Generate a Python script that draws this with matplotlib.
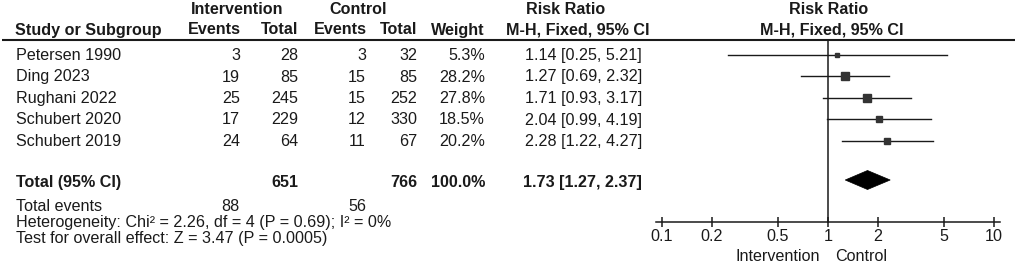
import matplotlib
matplotlib.use("Agg")
import matplotlib.pyplot as plt
from matplotlib.patches import Polygon

plt.rcParams["font.family"] = ["Liberation Sans", "DejaVu Sans"]

# data
studies = ["Petersen 1990", "Ding 2023", "Rughani 2022", "Schubert 2020", "Schubert 2019"]
int_events = [3, 19, 25, 17, 24]
int_total = [28, 85, 245, 229, 64]
ctl_events = [3, 15, 15, 12, 11]
ctl_total = [32, 85, 252, 330, 67]
weights = [5.3, 28.2, 27.8, 18.5, 20.2]
rr = [1.14, 1.27, 1.71, 2.04, 2.28]
rr_lo = [0.25, 0.69, 0.93, 0.99, 1.22]
rr_hi = [5.21, 2.32, 3.17, 4.19, 4.27]

total_rr, total_lo, total_hi = 1.73, 1.27, 2.37
total_int_n, total_ctl_n = 651, 766
total_int_ev, total_ctl_ev = 88, 56
heterogeneity = "Heterogeneity: Chi² = 2.26, df = 4 (P = 0.69); I² = 0%"
overall = "Test for overall effect: Z = 3.47 (P = 0.0005)"

ticks = [0.1, 0.2, 0.5, 1, 2, 5, 10]
tick_labels = ["0.1", "0.2", "0.5", "1", "2", "5", "10"]

W, H = 1017, 264
FS = 11.6
INK = "#1a1a1a"

fig = plt.figure(figsize=(W / 100, H / 100), dpi=100)

# table part, laid out in pixel coordinates
ax = fig.add_axes([0, 0, 1, 1])
ax.set_xlim(0, W)
ax.set_ylim(H, 0)
ax.axis("off")


def txt(x, y, s, ha="right", bold=False):
    ax.text(x, y, s, ha=ha, va="baseline", fontsize=FS, color=INK,
            fontweight="bold" if bold else "normal")


# headers
txt(237, 13.5, "Intervention", ha="center", bold=True)
txt(358, 13.5, "Control", ha="center", bold=True)
txt(566, 13.5, "Risk Ratio", ha="center", bold=True)
txt(829, 13.5, "Risk Ratio", ha="center", bold=True)
txt(15, 34.5, "Study or Subgroup", ha="left", bold=True)
txt(241, 34.5, "Events", bold=True)
txt(298, 34.5, "Total", bold=True)
txt(367, 34.5, "Events", bold=True)
txt(417, 34.5, "Total", bold=True)
txt(485, 34.5, "Weight", bold=True)
txt(578, 34.5, "M-H, Fixed, 95% CI", ha="center", bold=True)
txt(832, 34.5, "M-H, Fixed, 95% CI", ha="center", bold=True)
ax.plot([2, 1015], [39.5, 39.5], color=INK, lw=1.5, solid_capstyle="butt")

row_y = [60, 81.5, 103, 124.5, 146]
for i, y in enumerate(row_y):
    txt(16, y, studies[i], ha="left")
    txt(240, y, str(int_events[i]))
    txt(298, y, str(int_total[i]))
    txt(366, y, str(ctl_events[i]))
    txt(417, y, str(ctl_total[i]))
    txt(485, y, f"{weights[i]:.1f}%")
    txt(642, y, f"{rr[i]:.2f} [{rr_lo[i]:.2f}, {rr_hi[i]:.2f}]")

y_tot = 187
txt(16, y_tot, "Total (95% CI)", ha="left", bold=True)
txt(298, y_tot, str(total_int_n), bold=True)
txt(417, y_tot, str(total_ctl_n), bold=True)
txt(485, y_tot, f"{sum(weights):.1f}%", bold=True)
txt(642, y_tot, f"{total_rr:.2f} [{total_lo:.2f}, {total_hi:.2f}]", bold=True)

txt(16, 211, "Total events", ha="left")
txt(240, 211, str(total_int_ev))
txt(366, 211, str(total_ctl_ev))
txt(16, 226.5, heterogeneity, ha="left")
txt(16, 242.5, overall, ha="left")

# forest part, log scale
x0, x1 = 662, 994
fx = fig.add_axes([x0 / W, 0, (x1 - x0) / W, 1])
fx.set_xscale("log")
fx.set_xlim(0.1, 10)
fx.set_ylim(H, 0)
fx.patch.set_visible(False)
for s in ["top", "left", "right"]:
    fx.spines[s].set_visible(False)
fx.spines["bottom"].set_position(("data", 222))
fx.spines["bottom"].set_bounds(0.092, 10.9)
fx.spines["bottom"].set_linewidth(1.1)
fx.spines["bottom"].set_color(INK)
fx.set_yticks([])
fx.set_xticks(ticks)
fx.set_xticklabels(tick_labels)
fx.minorticks_off()
fx.tick_params(axis="x", direction="inout", length=7, width=1.1, color=INK,
               labelsize=FS, labelcolor=INK, pad=1.5)

fx.plot([1, 1], [39.5, 222], color=INK, lw=1.1)
for i, y in enumerate(row_y):
    yc = y - 5.5
    fx.plot([rr_lo[i], rr_hi[i]], [yc, yc], color=INK, lw=1.0)
    fx.plot(rr[i], yc, marker="s", color="#333333", mec="#333333",
            markersize=1.1 * weights[i] ** 0.5, clip_on=False)

yd = 180
diamond = Polygon([[total_lo, yd], [total_rr, yd - 9.5], [total_hi, yd], [total_rr, yd + 9.5]],
                  closed=True, facecolor="black", edgecolor="black", lw=0.5)
fx.add_patch(diamond)

fx.text(0.89, 261, "Intervention", ha="right", va="baseline", fontsize=FS, color=INK)
fx.text(1.11, 261, "Control", ha="left", va="baseline", fontsize=FS, color=INK)

fig.savefig("out.png", dpi=100)
